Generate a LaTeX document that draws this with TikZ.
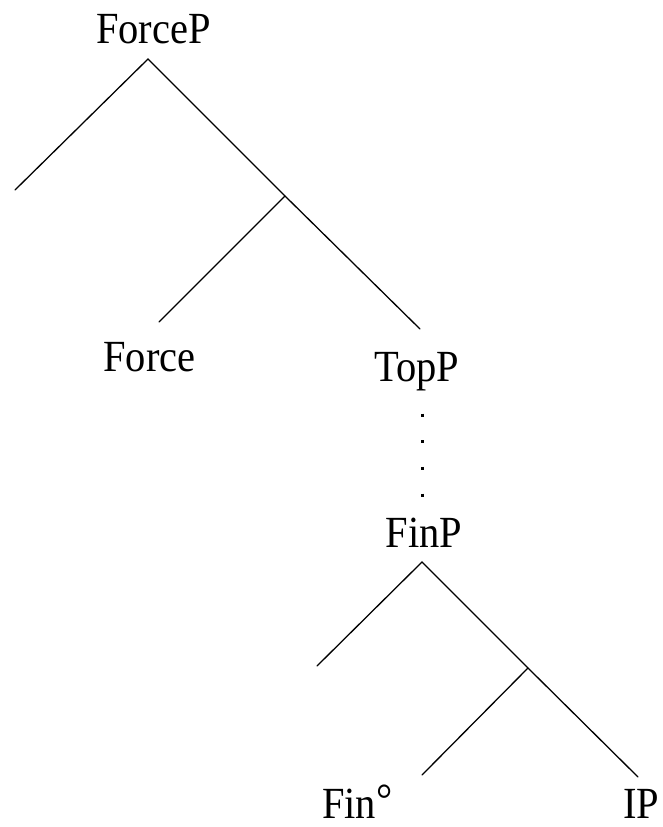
\documentclass[tikz,border=0pt]{standalone}
\usepackage{fontspec}
\setmainfont[FakeStretch=0.91]{Liberation Serif}
\begin{document}
\begin{tikzpicture}[x=1pt,y=-1pt,
  lbl/.style={inner sep=0pt,anchor=base,font=\fontsize{44.5}{50}\selectfont},
  branch/.style={line width=1.3pt,line cap=round},
  dotline/.style={line width=3pt,dash pattern=on 3pt off 23.67pt}]
\useasboundingbox[fill=white] (0,0) rectangle (662,827);

% labels
\node[lbl] (forcep) at (153.5,43) {ForceP};
\node[lbl] (force) at (149.5,371) {Force};
\node[lbl] (topp) at (417,381) {TopP};
\node[lbl] (finp) at (424,547) {FinP};
\node[lbl,anchor=base west] (fin) at (322,818) {Fin\raisebox{4pt}{°}};
\node[lbl,anchor=base west] (ip) at (623,818) {IP};

% upper tree
\coordinate (r1) at (148,59);
\coordinate (spec1) at (15,190);
\coordinate (j1) at (285,196);
\coordinate (forcetop) at (159,322);
\coordinate (toptop) at (420,329);
\draw[branch] (spec1) -- (r1) -- (j1) -- (toptop);
\draw[branch] (j1) -- (forcetop);

% dotted path from TopP down to FinP
\coordinate (dtop) at (422,413.5);
\coordinate (dbot) at (422,496.5);
\draw[dotline] (dtop) -- (dbot);

% lower tree
\coordinate (r2) at (422,562);
\coordinate (spec2) at (317,666);
\coordinate (j2) at (528,668);
\coordinate (fintop) at (422,775);
\coordinate (iptop) at (638,777);
\draw[branch] (spec2) -- (r2) -- (j2) -- (iptop);
\draw[branch] (j2) -- (fintop);
\end{tikzpicture}
\end{document}
